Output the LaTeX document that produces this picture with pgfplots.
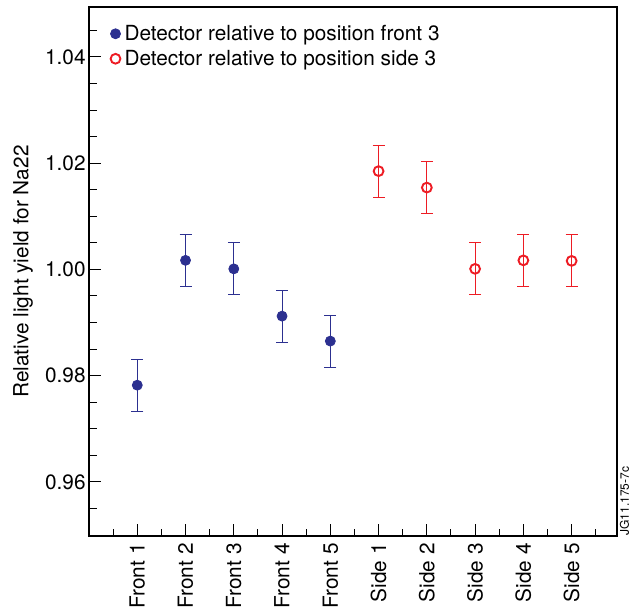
\documentclass[border=0pt]{standalone}
\usepackage{fontspec}
\setmainfont{TeX Gyre Heros}
\usepackage{pgfplots}
\pgfplotsset{compat=1.18}
\definecolor{navy}{RGB}{44,48,144}
\definecolor{rootred}{RGB}{237,28,36}

\pgfplotstableread{
x y e
1 0.9782 0.0049
2 1.0017 0.0049
3 1.0001 0.0049
4 0.9912 0.0049
5 0.9865 0.0049
}\front
\pgfplotstableread{
x y e
6 1.0185 0.0049
7 1.0154 0.0049
8 1.0001 0.0049
9 1.0017 0.0049
10 1.0016 0.0049
}\side

\begin{document}
\begin{tikzpicture}[font=\fontsize{10.4}{12}\selectfont]
\begin{axis}[
    scale only axis,
    width=264pt, height=264.5pt,
    xmin=0, xmax=10.94,
    ymin=0.9498, ymax=1.0494,
    axis line style={line width=0.6pt},
    tick style={line width=0.5pt, black},
    tick align=inside,
    xtick pos=lower, ytick pos=left,
    major tick length=6pt, minor tick length=3.75pt,
    xtick={1,...,10},
    xticklabels={Front 1,Front 2,Front 3,Front 4,Front 5,Side 1,Side 2,Side 3,Side 4,Side 5},
    minor xtick={0.5,1.5,...,10.5},
    xticklabel style={rotate=90, anchor=east, inner sep=3.5pt},
    ytick={0.96,0.98,1.00,1.02,1.04},
    minor ytick={0.955,0.965,0.97,0.975,0.985,0.99,0.995,1.005,1.01,1.015,1.025,1.03,1.035,1.045},
    yticklabel style={/pgf/number format/.cd, fixed, fixed zerofill, precision=2, assume math mode=true, /tikz/.cd, inner sep=1.5pt},
    ylabel={Relative light yield for Na22},
    ylabel style={at={(axis description cs:-0.125,0.5)}, anchor=center},
    legend cell align=left,
    legend image code/.code={\draw[mark repeat=1,#1] plot coordinates {(0pt,0pt)};},
    legend style={draw=none, fill=none, at={(axis description cs:0.04,0.97)}, anchor=north west,
        inner sep=0pt, row sep=2pt,
        nodes={inner ysep=0pt, inner xsep=2pt, text height=8.5pt, text depth=2pt}},
]
\coordinate (ll) at (rel axis cs:0,0);
\coordinate (ur) at (rel axis cs:1,1);
\addplot[navy, only marks, mark=*, mark size=2.5pt,
    error bars/.cd, y dir=both, y explicit,
    error bar style={line width=0.5pt},
    error mark options={rotate=90, mark size=3pt, line width=0.5pt}]
    table[x=x, y=y, y error=e] {\front};
\addplot[rootred, only marks, mark=o, mark size=2.45pt, mark options={line width=0.95pt, fill=white},
    error bars/.cd, y dir=both, y explicit,
    error bar style={line width=0.5pt},
    error mark options={rotate=90, mark size=3pt, line width=0.5pt}]
    table[x=x, y=y, y error=e] {\side};
\legend{Detector relative to position front 3, Detector relative to position side 3}
\end{axis}
\node[rotate=90, anchor=north west, inner sep=0pt, font=\fontsize{6}{7}\selectfont]
    at ([xshift=1.2pt]ur |- ll) {JG11.175-7c};
\pgfresetboundingbox
\path ([xshift=-44.5pt,yshift=-38.5pt]ll) rectangle ([xshift=6pt,yshift=3.5pt]ur);
\end{tikzpicture}
\end{document}
